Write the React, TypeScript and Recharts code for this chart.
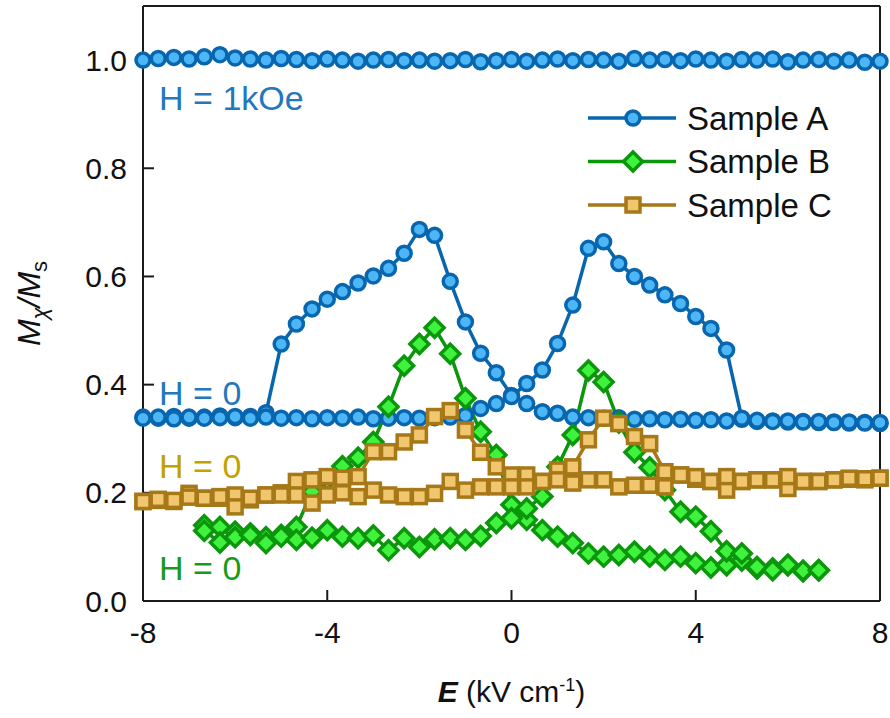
import { Legend, Line, LineChart, ReferenceDot, XAxis, YAxis } from "recharts";

const FONT = "Arial, 'Liberation Sans', sans-serif";

// electric field steps (kV/cm) used by samples A and C
const fieldAC = [
  -8, -7.67, -7.33, -7, -6.67, -6.33, -6, -5.67, -5.33, -5, -4.67, -4.33, -4,
  -3.67, -3.33, -3, -2.67, -2.33, -2, -1.67, -1.33, -1, -0.67, -0.33, 0, 0.33,
  0.67, 1, 1.33, 1.67, 2, 2.33, 2.67, 3, 3.33, 3.67, 4, 4.33, 4.67, 5, 5.33,
  5.67, 6, 6.33, 6.67, 7, 7.33, 7.67, 8,
];

// sample B was swept over a narrower range
const fieldB = [
  -6.67, -6.33, -6, -5.67, -5.33, -5, -4.67, -4.33, -4, -3.67, -3.33, -3,
  -2.67, -2.33, -2, -1.67, -1.33, -1, -0.67, -0.33, 0, 0.33, 0.67, 1, 1.33,
  1.67, 2, 2.33, 2.67, 3, 3.33, 3.67, 4, 4.33, 4.67, 5, 5.33, 5.67, 6, 6.33,
  6.67,
];

// Sample A, H = 1 kOe
const a1kOe = [
  1.0, 1.003, 1.005, 1.002, 1.006, 1.01, 1.004, 1.002, 1.0, 1.003, 1.001,
  0.999, 1.002, 1.0, 0.998, 1.0, 1.001, 0.999, 1.0, 0.998, 0.999, 1.001, 0.997,
  0.999, 1.001, 0.998, 1.0, 1.002, 0.999, 1.001, 1.0, 0.998, 1.003, 1.0, 1.001,
  0.999, 1.002, 1.0, 0.998, 1.001, 1.0, 1.002, 0.997, 1.0, 1.001, 0.998, 1.0,
  0.996, 0.998,
];

// Sample A, H = 0, up sweep / down sweep
const aUp = [
  0.34, 0.338, 0.341, 0.338, 0.34, 0.342, 0.339, 0.341, 0.348, 0.475, 0.512,
  0.54, 0.558, 0.572, 0.588, 0.601, 0.615, 0.643, 0.687, 0.676, 0.591, 0.516,
  0.458, 0.422, 0.38, 0.365, 0.35, 0.347, 0.34, 0.339, 0.338, 0.339, 0.336,
  0.337, 0.335, 0.336, 0.334, 0.335, 0.333, 0.336, 0.332, 0.333, 0.331, 0.332,
  0.33, 0.331, 0.329, 0.33, 0.328,
];
const aDown = [
  0.338, 0.34, 0.337, 0.34, 0.338, 0.339, 0.341, 0.338, 0.34, 0.338, 0.339,
  0.337, 0.339, 0.338, 0.34, 0.337, 0.338, 0.339, 0.338, 0.339, 0.34, 0.343,
  0.356, 0.365, 0.378, 0.402, 0.427, 0.476, 0.547, 0.652, 0.664, 0.624, 0.6,
  0.584, 0.566, 0.55, 0.526, 0.504, 0.464, 0.338, 0.334, 0.332, 0.333, 0.331,
  0.332, 0.33, 0.331, 0.329, 0.33,
];

// Sample B, H = 0
const bUp = [
  0.14, 0.137, 0.128, 0.125, 0.118, 0.122, 0.137, 0.202, 0.224, 0.249, 0.265,
  0.294, 0.359, 0.435, 0.475, 0.505, 0.457, 0.375, 0.313, 0.27, 0.178, 0.15,
  0.131, 0.119, 0.107, 0.088, 0.082, 0.085, 0.091, 0.082, 0.076, 0.082, 0.07,
  0.062, 0.066, 0.075, 0.06, 0.06, 0.066, 0.055, 0.057,
];
const bDown = [
  0.13, 0.108, 0.118, 0.122, 0.107, 0.119, 0.113, 0.117, 0.131, 0.119, 0.116,
  0.121, 0.094, 0.116, 0.1, 0.114, 0.116, 0.113, 0.12, 0.144, 0.153, 0.171,
  0.193, 0.248, 0.307, 0.426, 0.405, 0.33, 0.275, 0.247, 0.205, 0.165, 0.156,
  0.129, 0.092, 0.088, 0.063, 0.057, 0.067, 0.056, 0.057,
];

// Sample C, H = 0
const cUp = [
  0.184, 0.186, 0.184, 0.199, 0.19, 0.19, 0.196, 0.187, 0.196, 0.2, 0.221,
  0.224, 0.23, 0.227, 0.23, 0.276, 0.276, 0.294, 0.307, 0.341, 0.352, 0.316,
  0.275, 0.248, 0.233, 0.233, 0.221, 0.242, 0.218, 0.224, 0.224, 0.211, 0.214,
  0.214, 0.211, 0.233, 0.225, 0.221, 0.205, 0.221, 0.224, 0.224, 0.208, 0.221,
  0.221, 0.224, 0.225, 0.224, 0.227,
];
const cDown = [
  0.184, 0.188, 0.186, 0.192, 0.19, 0.193, 0.174, 0.19, 0.196, 0.196, 0.196,
  0.181, 0.196, 0.2, 0.193, 0.205, 0.196, 0.193, 0.193, 0.199, 0.221, 0.205,
  0.211, 0.211, 0.211, 0.211, 0.221, 0.224, 0.248, 0.298, 0.338, 0.328, 0.304,
  0.291, 0.239, 0.233, 0.23, 0.221, 0.23, 0.221, 0.224, 0.224, 0.23, 0.221,
  0.221, 0.224, 0.227, 0.226, 0.227,
];

const xTicks = [-8, -4, 0, 4, 8];
const yTicks = [0, 0.2, 0.4, 0.6, 0.8, 1.0];

const toRows = (E: number[], M: number[]) => E.map((e, i) => ({ E: e, M: M[i] }));

type Shape = "circle" | "diamond" | "square";

const samples = [
  { name: "Sample A", stroke: "#0866ae", fill: "#4db6f6", shape: "circle" as Shape },
  { name: "Sample B", stroke: "#0b960b", fill: "#3ef23e", shape: "diamond" as Shape },
  { name: "Sample C", stroke: "#a77818", fill: "#f0c66e", shape: "square" as Shape },
];

const notes = [
  { text: "H = 1kOe", E: -7.65, M: 0.93, color: "#2377bd" },
  { text: "H = 0", E: -7.65, M: 0.385, color: "#2377bd" },
  { text: "H = 0", E: -7.65, M: 0.25, color: "#bfa300" },
  { text: "H = 0", E: -7.65, M: 0.06, color: "#1a9a1a" },
];

const Marker = ({ shape, cx, cy, stroke, fill }: any) => {
  if (shape === "circle")
    return <circle cx={cx} cy={cy} r={7} fill={fill} stroke={stroke} strokeWidth={3.5} />;
  if (shape === "diamond") {
    const h = 9.5;
    return (
      <polygon
        points={`${cx},${cy - h} ${cx + h},${cy} ${cx},${cy + h} ${cx - h},${cy}`}
        fill={fill}
        stroke={stroke}
        strokeWidth={3.5}
      />
    );
  }
  return <rect x={cx - 7} y={cy - 7} width={14} height={14} fill={fill} stroke={stroke} strokeWidth={3.5} />;
};

const dotFor = (s: (typeof samples)[number]) => (p: any) =>
  <Marker key={p.index} shape={s.shape} cx={p.cx} cy={p.cy} stroke={s.stroke} fill={s.fill} />;

const LegendBox = () => (
  <svg width={300} height={140}>
    {samples.map((s, i) => (
      <g key={s.name} transform={`translate(0, ${22 + i * 43.5})`}>
        <line x1={4} x2={92} y1={0} y2={0} stroke={s.stroke} strokeWidth={3.5} />
        <Marker shape={s.shape} cx={49} cy={0} stroke={s.stroke} fill={s.fill} />
        <text x={103} y={0} dy="0.35em" fontSize={33} fontFamily={FONT} fill="#111">
          {s.name}
        </text>
      </g>
    ))}
  </svg>
);

const XLabel = ({ viewBox }: any) => (
  <text x={viewBox.x + viewBox.width / 2} y={702} textAnchor="middle" fontSize={30} fontFamily={FONT} fill="#111">
    <tspan fontStyle="italic" fontWeight="bold">E</tspan>
    <tspan> (kV cm</tspan>
    <tspan dy={-11} fontSize={18}>-1</tspan>
    <tspan dy={11}>)</tspan>
  </text>
);

const YLabel = ({ viewBox }: any) => (
  <text
    transform={`translate(40, ${viewBox.y + viewBox.height / 2}) rotate(-90)`}
    textAnchor="middle"
    fontSize={32}
    fontFamily={FONT}
    fill="#111"
  >
    <tspan fontStyle="italic">M</tspan>
    <tspan fontStyle="italic" fontSize={22} dy={7}>χ</tspan>
    <tspan fontStyle="italic" dy={-7}>/M</tspan>
    <tspan fontSize={22} dy={7}>s</tspan>
  </text>
);

const axisLine = { stroke: "#1a1a1a", strokeWidth: 2 };
const tickStyle = { fill: "#111", fontSize: 30, fontFamily: FONT };

const App = () => {
  const series = [
    { key: "a1k", rows: toRows(fieldAC, a1kOe), s: samples[0] },
    { key: "aUp", rows: toRows(fieldAC, aUp), s: samples[0] },
    { key: "aDown", rows: toRows(fieldAC, aDown), s: samples[0] },
    { key: "bUp", rows: toRows(fieldB, bUp), s: samples[1] },
    { key: "bDown", rows: toRows(fieldB, bDown), s: samples[1] },
    { key: "cUp", rows: toRows(fieldAC, cUp), s: samples[2] },
    { key: "cDown", rows: toRows(fieldAC, cDown), s: samples[2] },
  ];

  return (
    <div style={{ position: "absolute", left: 0, top: 0, background: "#fff" }}>
      <LineChart width={890} height={718} margin={{ top: 5, right: 9, bottom: 0, left: 0 }}>
        <XAxis
          type="number"
          dataKey="E"
          domain={[-8, 8]}
          ticks={xTicks}
          height={117}
          tickSize={-11}
          tickMargin={32}
          axisLine={axisLine}
          tickLine={axisLine}
          tick={tickStyle}
          label={{ content: XLabel }}
        />
        <XAxis
          xAxisId="top"
          orientation="top"
          type="number"
          dataKey="E"
          domain={[-8, 8]}
          ticks={xTicks}
          height={1}
          tickSize={-11}
          tickFormatter={() => ""}
          axisLine={axisLine}
          tickLine={axisLine}
        />
        <YAxis
          type="number"
          domain={[0, 1.1]}
          ticks={yTicks}
          width={143}
          tickSize={-11}
          tickMargin={27}
          tickFormatter={(v: number) => v.toFixed(1)}
          axisLine={axisLine}
          tickLine={axisLine}
          tick={tickStyle}
          label={{ content: YLabel }}
        />
        <YAxis
          yAxisId="right"
          orientation="right"
          type="number"
          domain={[0, 1.1]}
          ticks={yTicks}
          width={1}
          tickSize={-11}
          tickFormatter={() => ""}
          axisLine={axisLine}
          tickLine={axisLine}
        />
        {series.map(({ key, rows, s }) => (
          <Line
            key={key}
            data={rows}
            dataKey="M"
            type="linear"
            stroke={s.stroke}
            strokeWidth={3.5}
            dot={dotFor(s)}
            activeDot={false}
            legendType="none"
            isAnimationActive={false}
          />
        ))}
        {notes.map((n, i) => (
          <ReferenceDot
            key={i}
            x={n.E}
            y={n.M}
            r={0}
            shape={(p: any) => (
              <text x={p.cx} y={p.cy} dy="0.35em" fontSize={34} fontFamily={FONT} fill={n.color}>
                {n.text}
              </text>
            )}
          />
        ))}
        <Legend
          layout="vertical"
          align="center"
          verticalAlign="middle"
          content={LegendBox}
          wrapperStyle={{ position: "absolute", left: 584, top: 96, width: 300, height: 140 }}
        />
      </LineChart>
    </div>
  );
};

export default App;
